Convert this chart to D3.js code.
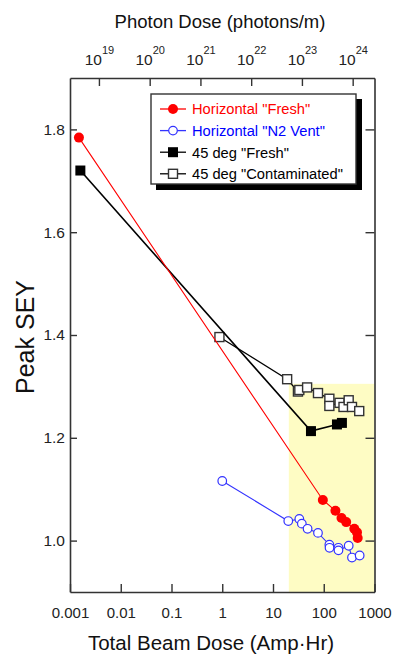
<!DOCTYPE html>
<html>
<head>
<meta charset="utf-8">
<script src="https://cdnjs.cloudflare.com/ajax/libs/d3/7.8.5/d3.min.js"></script>
<style>
  html, body { margin: 0; padding: 0; background: #fff; }
  svg { display: block; font-family: "Liberation Sans", Arial, sans-serif; }
</style>
</head>
<body>
<svg id="chart" width="394" height="655"></svg>
<script>
// Horizontal chamber, fresh surface
const hFreshDose = [0.0015, 96, 170, 224, 277, 400, 452, 466];
const hFreshSey  = [1.784, 1.079, 1.058, 1.044, 1.036, 1.023, 1.016, 1.005];

// Horizontal chamber after N2 vent
const hVentDose = [1.0, 20, 33, 37, 48, 77, 129, 130, 195, 195, 310, 360, 510];
const hVentSey  = [1.116, 1.038, 1.042, 1.033, 1.023, 1.015, 0.992, 0.986, 0.986, 0.981, 0.990, 0.967, 0.971];

// 45 degree chamber, fresh surface
const dFreshDose = [0.0016, 56, 182, 228];
const dFreshSey  = [1.72, 1.213, 1.226, 1.229];

// 45 degree chamber, contaminated surface
const dContDose = [0.88, 19, 31, 33, 47, 77, 129, 129, 205, 245, 310, 360, 500];
const dContSey  = [1.396, 1.314, 1.290, 1.293, 1.298, 1.287, 1.276, 1.262, 1.268, 1.260, 1.273, 1.260, 1.252];

const beamTicks   = [0.001, 0.01, 0.1, 1, 10, 100, 1000];
const beamLabels  = ["0.001", "0.01", "0.1", "1", "10", "100", "1000"];
const photonExps  = [19, 20, 21, 22, 23, 24];
const seyTicks    = [1.0, 1.2, 1.4, 1.6, 1.8];

// photons/m delivered per Amp·Hr of beam dose
const photonsPerAmpHr = Math.pow(10, 21.43);

// Region of the conditioned-surface measurements
const shadeDose = [20.5, 1000];
const shadeSey  = [0.9, 1.305];

const seriesNames = ['Horizontal "Fresh"', 'Horizontal "N2 Vent"', '45 deg "Fresh"', '45 deg "Contaminated"'];

const svg = d3.select("#chart");
const m = { left: 70, right: 374.5, top: 78, bottom: 592 };

const x = d3.scaleLog().domain([0.001, 1000]).range([m.left, m.right]);
const xTop = d3.scaleLog()
  .domain([0.001 * photonsPerAmpHr, 1000 * photonsPerAmpHr])
  .range([m.left, m.right]);
const y = d3.scaleLinear().domain([0.9, 1.9]).range([m.bottom, m.top]);

const axisColor = "#333";

// shaded region
svg.append("rect")
  .attr("x", x(shadeDose[0]))
  .attr("y", y(shadeSey[1]))
  .attr("width", x(shadeDose[1]) - x(shadeDose[0]))
  .attr("height", y(shadeSey[0]) - y(shadeSey[1]))
  .attr("fill", "#fefcc4");

// axes
function styleAxis(g) {
  g.selectAll(".domain").attr("stroke", axisColor).attr("stroke-width", 1.6);
  g.selectAll(".tick line").attr("stroke", axisColor).attr("stroke-width", 1.4);
  g.selectAll("text").attr("fill", "#222").attr("font-family", "Liberation Sans, Arial, sans-serif");
}

const gBottom = svg.append("g")
  .attr("transform", `translate(0,${m.bottom})`)
  .call(d3.axisBottom(x).tickValues(beamTicks)
    .tickFormat((d, i) => beamLabels[i])
    .tickSizeInner(-8).tickSizeOuter(0).tickPadding(15));
gBottom.selectAll("text").attr("font-size", 15);
styleAxis(gBottom);

const gTop = svg.append("g")
  .attr("transform", `translate(0,${m.top})`)
  .call(d3.axisTop(xTop).tickValues(photonExps.map(e => Math.pow(10, e)))
    .tickFormat("").tickSizeInner(-8).tickSizeOuter(0));
styleAxis(gTop);
gTop.selectAll(".tick").each(function (d, i) {
  const t = d3.select(this).append("text")
    .attr("y", -13)
    .attr("text-anchor", "middle")
    .attr("fill", "#222")
    .attr("font-size", 15.5);
  t.append("tspan").text("10");
  t.append("tspan").attr("dy", -11).attr("font-size", 11).text(photonExps[i]);
});

const gLeft = svg.append("g")
  .attr("transform", `translate(${m.left},0)`)
  .call(d3.axisLeft(y).tickValues(seyTicks).tickFormat(d3.format(".1f"))
    .tickSizeInner(-7).tickSizeOuter(0).tickPadding(5));
gLeft.selectAll("text").attr("font-size", 15.5);
styleAxis(gLeft);

const gRight = svg.append("g")
  .attr("transform", `translate(${m.right},0)`)
  .call(d3.axisRight(y).tickValues(seyTicks).tickFormat("")
    .tickSizeInner(-9).tickSizeOuter(0));
styleAxis(gRight);

// axis titles
svg.append("text")
  .attr("x", 220).attr("y", 28)
  .attr("text-anchor", "middle")
  .attr("font-size", 18.5).attr("fill", "#111")
  .text("Photon Dose (photons/m)");

svg.append("text")
  .attr("x", 211).attr("y", 650)
  .attr("text-anchor", "middle")
  .attr("font-size", 20.5).attr("fill", "#111")
  .text("Total Beam Dose (Amp\u00B7Hr)");

svg.append("text")
  .attr("transform", `translate(34,337) rotate(-90)`)
  .attr("text-anchor", "middle")
  .attr("font-size", 25).attr("fill", "#111")
  .text("Peak SEY");

// series
const series = [
  { dose: hFreshDose, sey: hFreshSey, color: "#ff0000", width: 1.1, shape: "circle", fill: "#ff0000", r: 5 },
  { dose: hVentDose, sey: hVentSey, color: "#3333ff", width: 1.1, shape: "circle", fill: "#ffffff", r: 4.3 },
  { dose: dFreshDose, sey: dFreshSey, color: "#000000", width: 1.6, shape: "square", fill: "#000000", r: 5 },
  { dose: dContDose, sey: dContSey, color: "#000000", width: 1.3, shape: "square", fill: "#ffffff", r: 4.5 }
];

const line = d3.line().x(d => x(d[0])).y(d => y(d[1]));

function drawMarker(g, s, cx, cy) {
  if (s.shape === "circle") {
    g.append("circle").attr("cx", cx).attr("cy", cy).attr("r", s.r)
      .attr("fill", s.fill)
      .attr("stroke", s.color).attr("stroke-width", s.fill === "#ffffff" ? 1.2 : 0);
  } else {
    g.append("rect").attr("x", cx - s.r).attr("y", cy - s.r)
      .attr("width", 2 * s.r).attr("height", 2 * s.r)
      .attr("fill", s.fill)
      .attr("stroke", s.fill === "#ffffff" ? "#333" : "none")
      .attr("stroke-width", 1.4);
  }
}

[3, 2, 1, 0].forEach(k => {
  const s = series[k];
  const pts = s.dose.map((d, i) => [d, s.sey[i]]);
  const g = svg.append("g");
  g.append("path").datum(pts).attr("d", line)
    .attr("fill", "none").attr("stroke", s.color).attr("stroke-width", s.width);
  pts.forEach(p => drawMarker(g, s, x(p[0]), y(p[1])));
});

// legend
const lg = svg.append("g");
lg.append("rect").attr("x", 156).attr("y", 99).attr("width", 206).attr("height", 91).attr("fill", "#000");
lg.append("rect").attr("x", 151).attr("y", 94).attr("width", 205).attr("height", 90)
  .attr("fill", "#fff").attr("stroke", "#333").attr("stroke-width", 1.4);

const legendColors = ["#ff0000", "#0000ff", "#000", "#000"];
seriesNames.forEach((name, i) => {
  const cy = 109 + i * 21.6;
  const s = series[i];
  lg.append("line").attr("x1", 160).attr("x2", 186).attr("y1", cy).attr("y2", cy)
    .attr("stroke", s.color).attr("stroke-width", 1.3);
  drawMarker(lg, s, 173, cy);
  lg.append("text").attr("x", 192).attr("y", cy + 5.3)
    .attr("font-size", 14.7).attr("fill", legendColors[i])
    .text(name);
});
</script>
</body>
</html>
